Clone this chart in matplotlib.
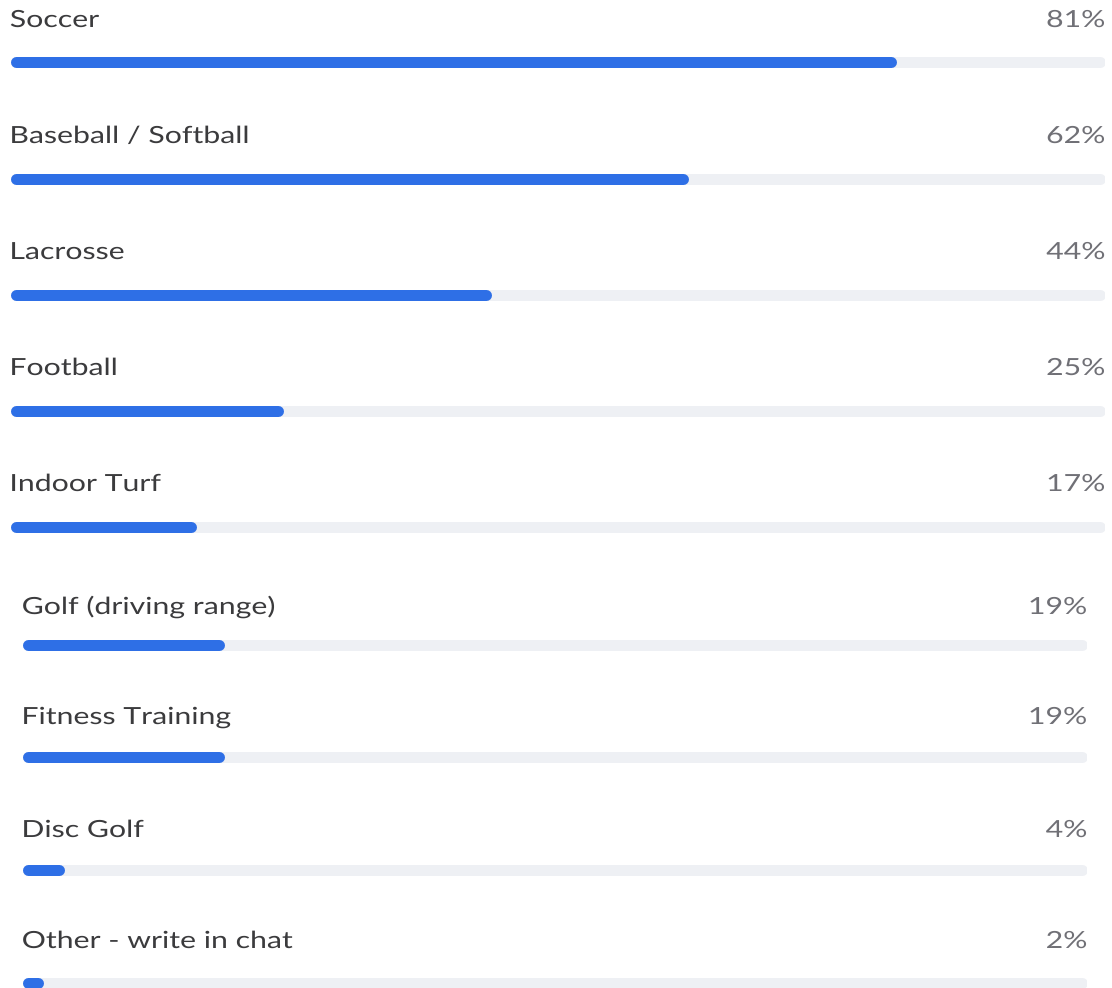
import matplotlib.pyplot as plt
from matplotlib.patheffects import AbstractPathEffect
from matplotlib.transforms import Affine2D

# poll results, two blocks of rows
labels_a = ["Soccer", "Baseball / Softball", "Lacrosse", "Football", "Indoor Turf"]
values_a = [81, 62, 44, 25, 17]
labels_b = ["Golf (driving range)", "Fitness Training", "Disc Golf", "Other - write in chat"]
values_b = [19, 19, 4, 2]

W, H = 1112, 988
BLUE = "#2e6fe6"
TRACK = "#eef0f4"
fig = plt.figure(figsize=(W / 100, H / 100), dpi=100)
fig.patch.set_facecolor("white")


class Widen(AbstractPathEffect):
    """Draw text stretched horizontally, pinned at its left or right edge."""

    def __init__(self, sx, anchor="left"):
        super().__init__()
        self.sx = sx
        self.anchor = anchor

    def draw_path(self, renderer, gc, tpath, affine, rgbFace=None):
        ext = tpath.get_extents(affine)
        a = ext.x0 if self.anchor == "left" else ext.x1
        t = affine + Affine2D().translate(-a, 0).scale(self.sx, 1).translate(a, 0)
        renderer.draw_path(gc, tpath, t, rgbFace)


SX = 1.28


def draw_block(x0, x1, labels, values, bar_y, text_y):
    ax = fig.add_axes([x0 / W, 0, (x1 - x0) / W, 1])
    ax.set_xlim(0, 100)
    ax.set_ylim(H, 0)
    ax.axis("off")
    lw_px = 11
    r = (lw_px / 2) / (x1 - x0) * 100  # half the cap, in data units
    for lab, v, by, ty in zip(labels, values, bar_y, text_y):
        ax.plot([r, 100 - r], [by, by], color=TRACK, lw=lw_px * 0.72,
                solid_capstyle="round")
        ax.plot([r, max(v - r, r + 0.01)], [by, by], color=BLUE, lw=lw_px * 0.72,
                solid_capstyle="round")
        ax.text(0, ty, lab, ha="left", va="baseline", fontsize=17,
                family="Lato", color="#3b3b3d",
                path_effects=[Widen(SX, "left")])
        ax.text(100, ty, f"{v}%", ha="right", va="baseline", fontsize=17,
                family="Lato", color="#707076",
                path_effects=[Widen(SX, "right")])


draw_block(10, 1105, labels_a, values_a,
           [62.5, 179, 295, 411, 527], [27, 143, 259, 375, 491])
draw_block(22, 1087, labels_b, values_b,
           [645, 757, 870, 983], [614, 724, 837, 948])

fig.savefig("out.png", dpi=100, facecolor="white")
